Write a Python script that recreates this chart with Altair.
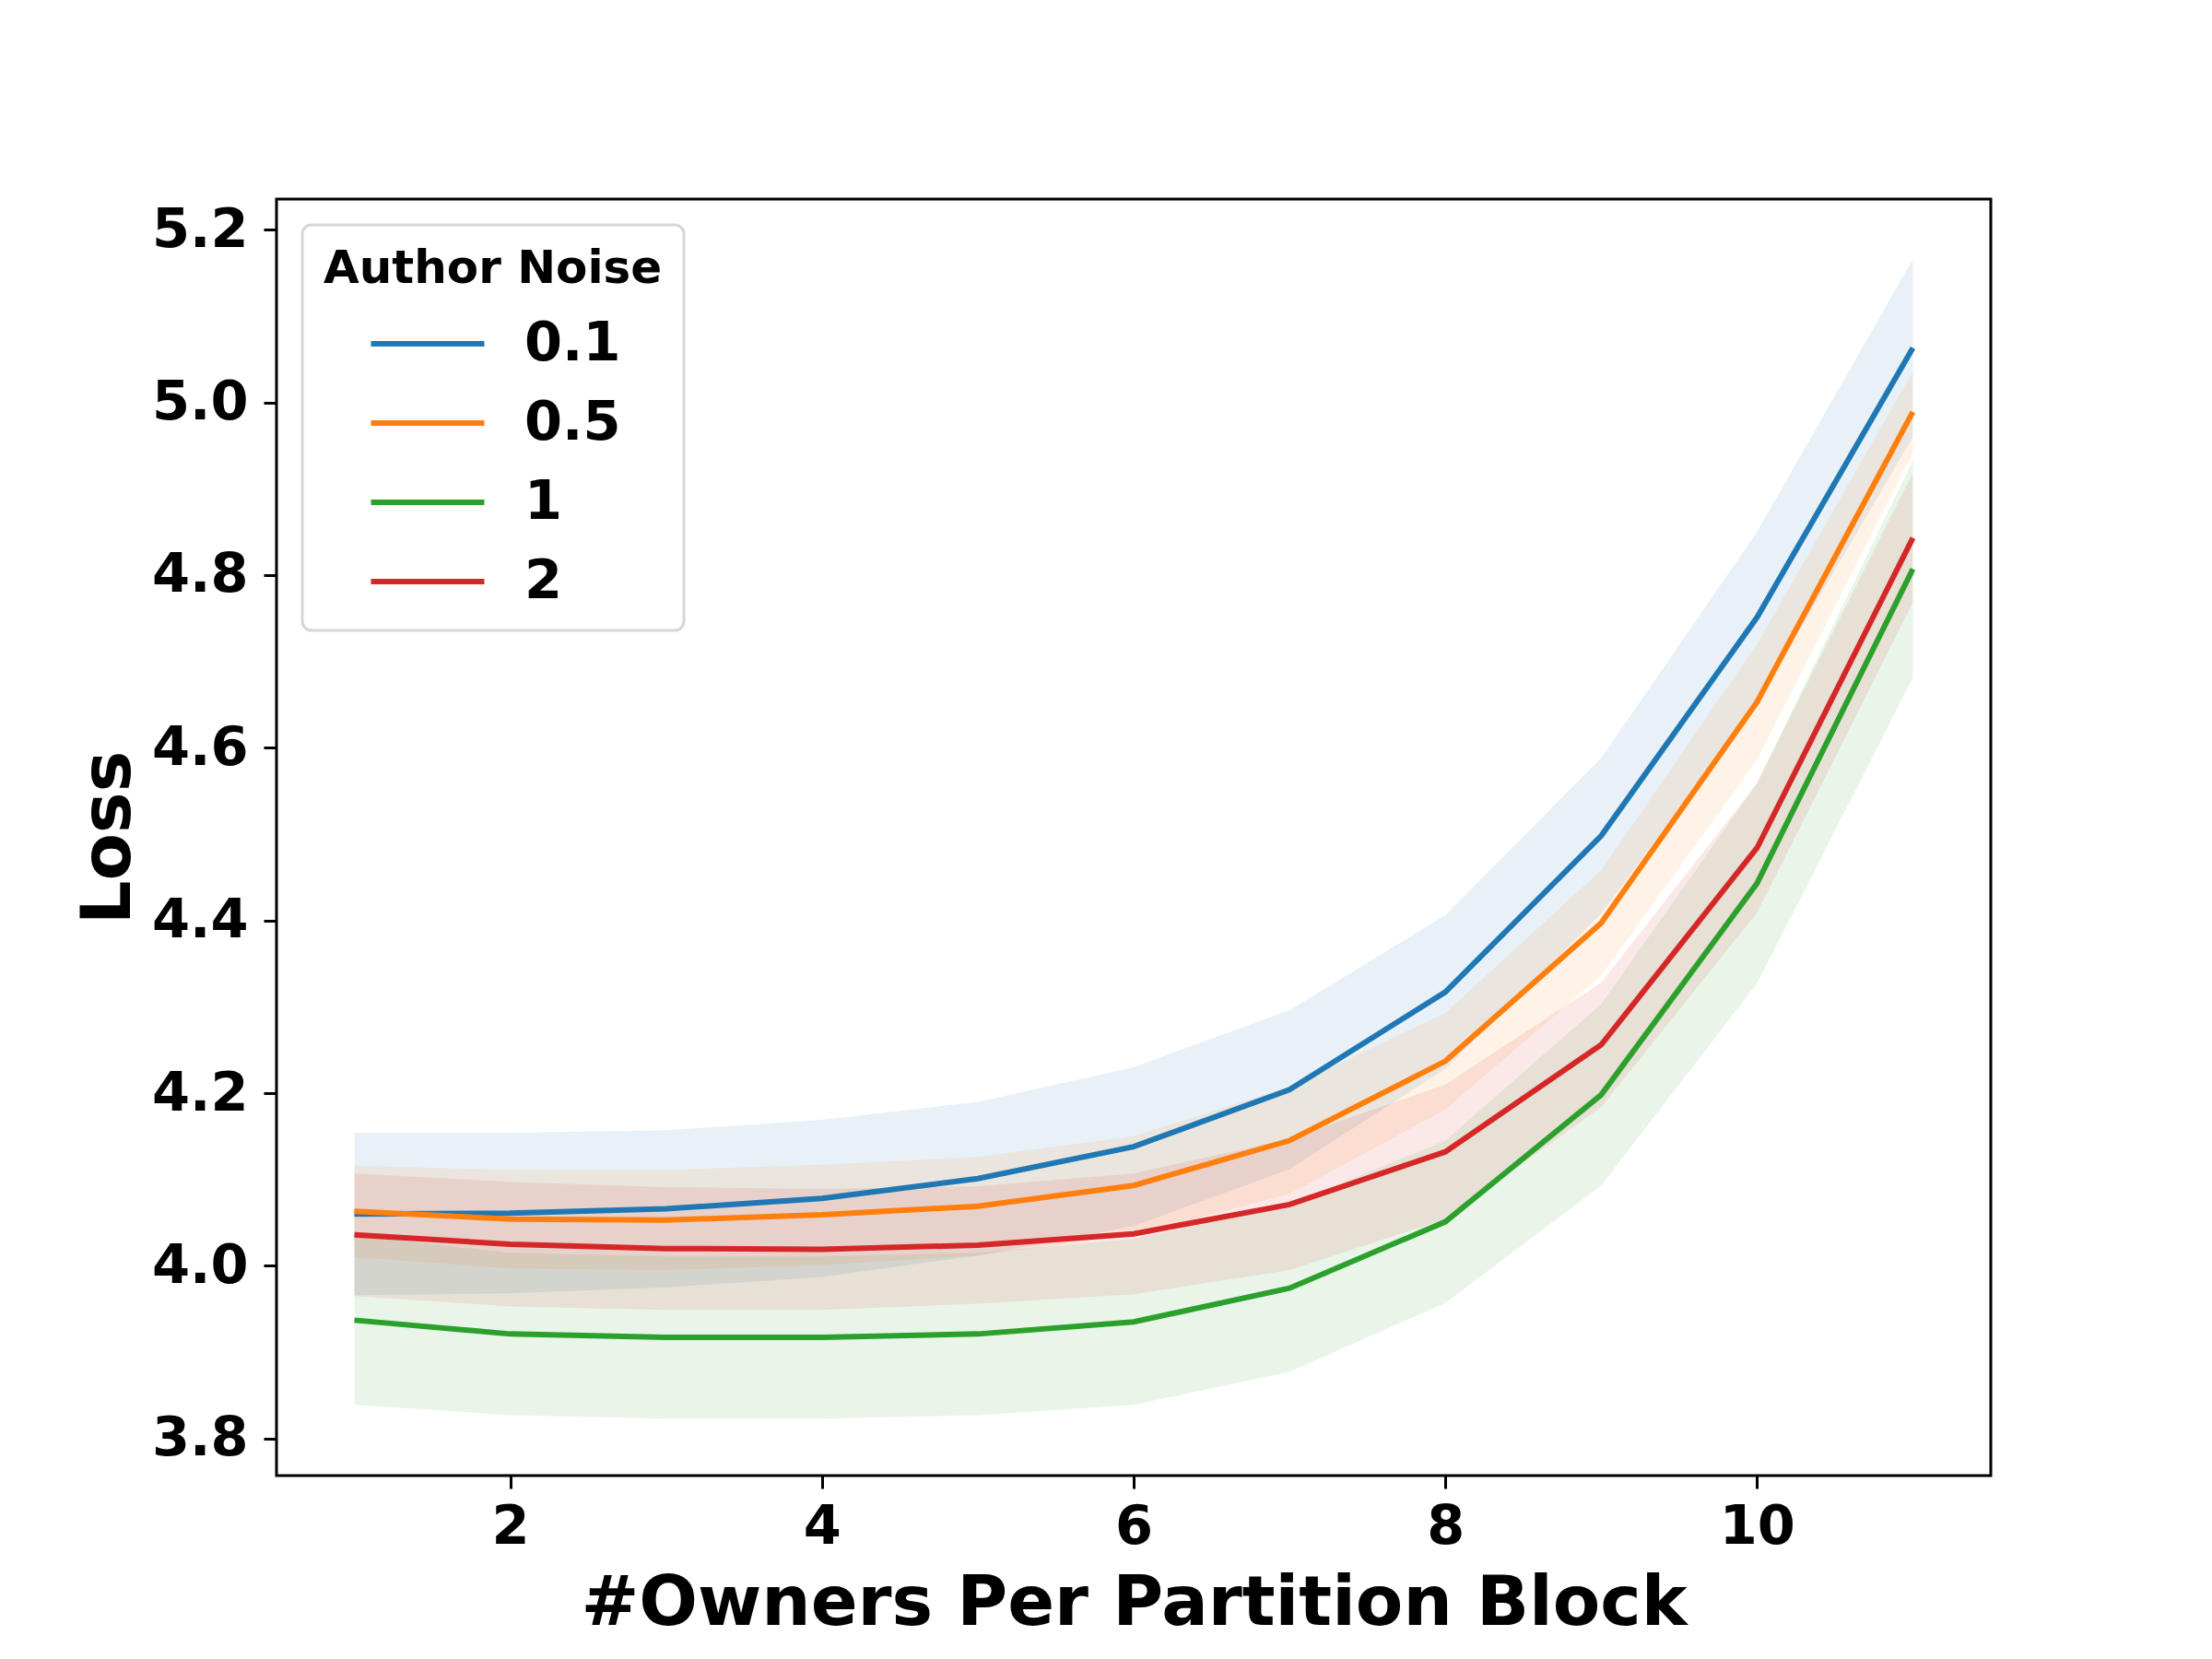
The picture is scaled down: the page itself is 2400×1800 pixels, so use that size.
import altair as alt
import pandas as pd

# ---- data ----
owners = [1, 2, 3, 4, 5, 6, 7, 8, 9, 10, 11]
noise_levels = ["0.1", "0.5", "1", "2"]
colors = ["#1f77b4", "#ff7f0e", "#2ca02c", "#d62728"]

mean_01 = [4.060, 4.061, 4.066, 4.078, 4.101, 4.138, 4.204, 4.317, 4.498, 4.751, 5.063]
low_01 = [3.966, 3.968, 3.975, 3.987, 4.012, 4.046, 4.112, 4.228, 4.408, 4.652, 4.960]
high_01 = [4.154, 4.154, 4.157, 4.169, 4.190, 4.230, 4.296, 4.406, 4.588, 4.850, 5.166]

mean_05 = [4.063, 4.054, 4.053, 4.059, 4.069, 4.093, 4.145, 4.237, 4.397, 4.653, 4.989]
low_05 = [4.010, 3.997, 3.995, 4.001, 4.012, 4.036, 4.083, 4.181, 4.336, 4.586, 4.942]
high_05 = [4.116, 4.111, 4.111, 4.117, 4.126, 4.150, 4.207, 4.293, 4.458, 4.720, 5.036]

mean_1 = [3.937, 3.921, 3.917, 3.917, 3.921, 3.935, 3.974, 4.051, 4.198, 4.443, 4.807]
low_1 = [3.839, 3.827, 3.823, 3.823, 3.827, 3.839, 3.877, 3.957, 4.093, 4.327, 4.681]
high_1 = [4.035, 4.015, 4.011, 4.011, 4.015, 4.031, 4.071, 4.145, 4.303, 4.559, 4.933]

mean_2 = [4.036, 4.025, 4.020, 4.019, 4.024, 4.037, 4.071, 4.132, 4.256, 4.484, 4.843]
low_2 = [3.965, 3.953, 3.949, 3.949, 3.956, 3.967, 3.995, 4.054, 4.184, 4.409, 4.768]
high_2 = [4.107, 4.097, 4.091, 4.089, 4.092, 4.107, 4.147, 4.210, 4.328, 4.559, 4.918]

x_ticks = [2, 4, 6, 8, 10]
y_ticks = [3.8, 4.0, 4.2, 4.4, 4.6, 4.8, 5.0, 5.2]

series = {
    "0.1": (mean_01, low_01, high_01),
    "0.5": (mean_05, low_05, high_05),
    "1": (mean_1, low_1, high_1),
    "2": (mean_2, low_2, high_2),
}

rows = []
for k, name in enumerate(noise_levels):
    m, lo, hi = series[name]
    for i, xv in enumerate(owners):
        rows.append({"owners": xv, "noise": name, "order": k,
                     "loss": m[i], "lower": lo[i], "upper": hi[i]})
df = pd.DataFrame(rows)

FONT = "DejaVu Sans"

x_enc = alt.X("owners:Q",
              scale=alt.Scale(domain=[0.5, 11.5], nice=False, zero=False),
              axis=alt.Axis(values=x_ticks, title="#Owners Per Partition Block",
                            format="d", titleY=161, titleBaseline="alphabetic"))
y_scale = alt.Scale(domain=[3.757, 5.2355], nice=False, zero=False)
color_scale = alt.Scale(domain=noise_levels, range=colors)

bands = alt.Chart(df).mark_area(opacity=0.1).encode(
    x=x_enc,
    y=alt.Y("lower:Q", scale=y_scale,
            axis=alt.Axis(values=y_ticks, format=".1f", title="Loss",
                          titleX=-160, titleBaseline="alphabetic")),
    y2="upper:Q",
    color=alt.Color("noise:N", scale=color_scale, legend=None),
    detail="noise:N",
)

lines = alt.Chart(df).mark_line(strokeWidth=6).encode(
    x=x_enc,
    y=alt.Y("loss:Q", scale=y_scale),
    color=alt.Color("noise:N", scale=color_scale,
                    sort=noise_levels,
                    legend=alt.Legend(title="Author Noise")),
    order="owners:Q",
)

chart = alt.layer(bands, lines).resolve_legend(color="independent").properties(
    width=1860,
    height=1385,
    autosize=alt.AutoSizeParams(type="none"),
    padding={"left": 292, "top": 208, "right": 232, "bottom": 185},
    background="white",
).configure_view(
    stroke="black",
    strokeWidth=3,
).configure_axis(
    domain=False,
    grid=False,
    labelFont=FONT,
    labelFontSize=59,
    labelFontWeight="bold",
    labelColor="black",
    titleFont=FONT,
    titleFontSize=75,
    titleFontWeight="bold",
    titleColor="black",
    tickColor="black",
    tickWidth=3,
    tickSize=14,
).configure_axisX(
    labelPadding=12,
).configure_axisY(
    labelPadding=17,
).configure_legend(
    orient="none",
    legendX=28,
    legendY=28,
    fillColor="white",
    strokeColor="#d6d6d6",
    strokeWidth=3,
    cornerRadius=10,
    padding=23,
    titleFont=FONT,
    titleFontSize=50,
    titleFontWeight="bold",
    titleColor="black",
    titleLimit=2000,
    titlePadding=22,
    labelFont=FONT,
    labelFontSize=59,
    labelFontWeight="bold",
    labelColor="black",
    labelLimit=1000,
    symbolType="M-2,0H2",
    symbolSize=3782,
    symbolStrokeWidth=6,
    symbolOffset=79,
    labelOffset=71,
    rowPadding=22,
)

chart.save("out.html", embed_options={"renderer": "svg", "actions": False})
